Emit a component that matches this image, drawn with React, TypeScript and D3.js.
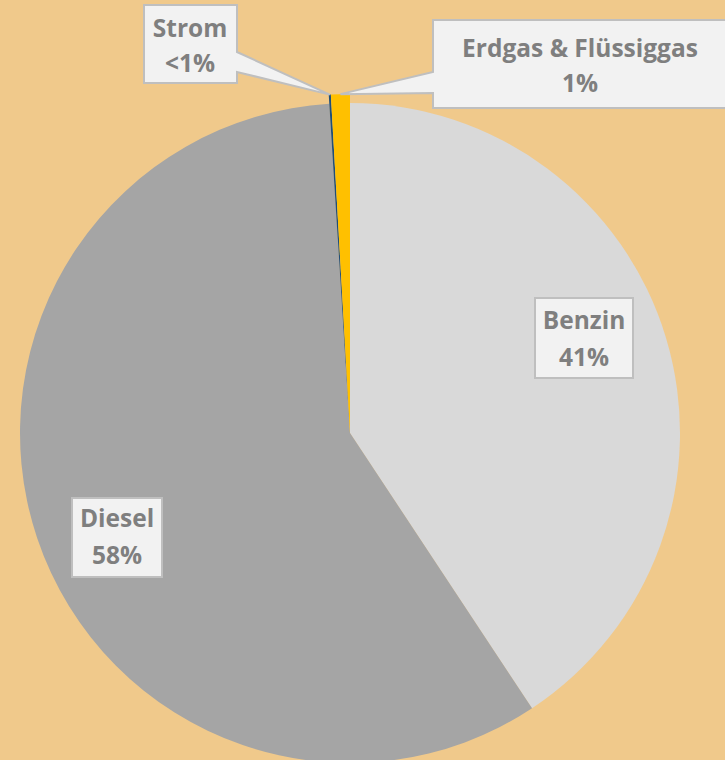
import * as d3 from 'd3'

// Anteil der Kraftstoffarten (in %)
const categories = ['Benzin', 'Diesel', 'Strom', 'Erdgas & Flüssiggas']
const shares = [40.7, 58.3, 0.1, 0.9]
const shareLabels = ['41%', '58%', '<1%', '1%']
const colors = ['#D9D9D9', '#A5A5A5', '#1F4E79', '#FFC000']

const W = 725
const H = 760
const cx = 350
const cy = 433
const R = 330
const bg = '#F0C98B'

type Slice = d3.PieArcDatum<number>

export default function App() {
  const pie = d3.pie<number>().sort(null).startAngle(0).endAngle(2 * Math.PI)
  const arcs = pie(shares)
  // the two tiny slices stick out a little beyond the pie
  const outer = (i: number) => (i >= 2 ? R + 9 : R)
  const arc = (d: Slice, i: number) =>
    d3.arc<Slice>().innerRadius(0).outerRadius(outer(i))(d) || ''

  const tip = (i: number) => {
    const a = (arcs[i].startAngle + arcs[i].endAngle) / 2
    return [cx + outer(i) * Math.sin(a), cy - outer(i) * Math.cos(a)]
  }

  // callout boxes
  const [sx, sy] = tip(2)
  const [ex, ey] = tip(3)
  const stromPath = `M144,5H237V52L${sx},${sy}L237,72V83H144Z`
  const erdgasPath = `M433,20H730V108H433V93L${ex},${ey}L433,72Z`

  const boxes = [
    { i: 0, x: 535, y: 298, w: 98, h: 80, tx: 584, ty: 329 },
    { i: 1, x: 72, y: 498, w: 90, h: 79, tx: 117, ty: 527 },
  ]

  const textStyle = {
    fontFamily: '"Open Sans", sans-serif',
    fontWeight: 700,
    fontSize: 24.5,
    fill: '#7F7F7F',
  }

  return (
    <svg width={W} height={H} style={{ position: 'absolute', left: 0, top: 0, display: 'block' }}>
      <rect width={W} height={H} fill={bg} />
      <g transform={`translate(${cx},${cy})`}>
        {arcs.map((d, i) => (
          <path key={categories[i]} d={arc(d, i)} fill={colors[i]} />
        ))}
      </g>

      {boxes.map(b => (
        <g key={categories[b.i]}>
          <rect x={b.x} y={b.y} width={b.w} height={b.h} fill="#F2F2F2" stroke="#BFBFBF" strokeWidth={2} />
          <text x={b.tx} y={b.ty} textAnchor="middle" style={textStyle}>{categories[b.i]}</text>
          <text x={b.tx} y={b.ty + 37} textAnchor="middle" style={textStyle}>{shareLabels[b.i]}</text>
        </g>
      ))}

      <path d={stromPath} fill="#F2F2F2" stroke="#BFBFBF" strokeWidth={2} strokeLinejoin="miter" />
      <text x={190} y={37} textAnchor="middle" style={textStyle}>{categories[2]}</text>
      <text x={190} y={72} textAnchor="middle" style={textStyle}>{shareLabels[2]}</text>

      <path d={erdgasPath} fill="#F2F2F2" stroke="#BFBFBF" strokeWidth={2} strokeLinejoin="miter" />
      <text x={580} y={57} textAnchor="middle" style={textStyle}>{categories[3]}</text>
      <text x={580} y={92} textAnchor="middle" style={textStyle}>{shareLabels[3]}</text>
    </svg>
  )
}
